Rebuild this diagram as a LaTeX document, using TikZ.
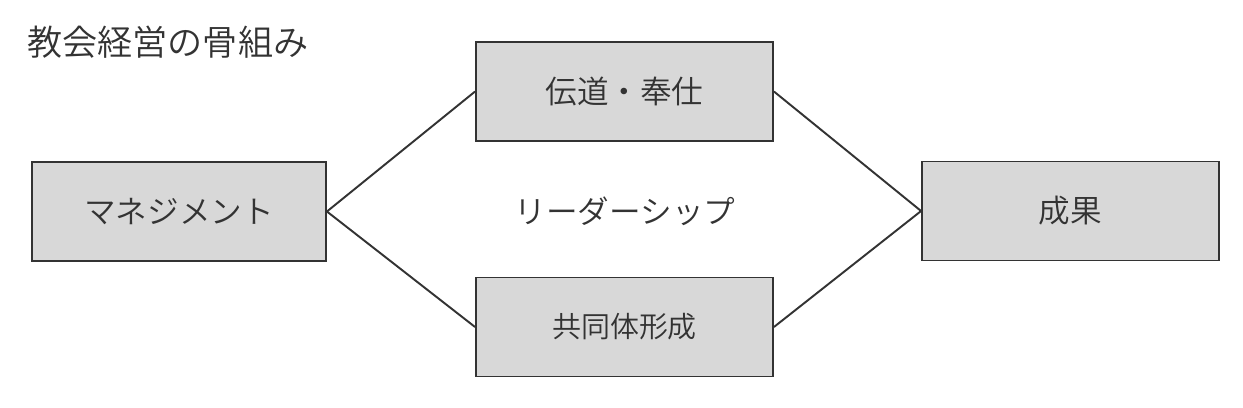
\documentclass[tikz,border=0pt]{standalone}
\usepackage{fontspec}
\usepackage{xcolor}
\usepackage{tikz}
\newfontfamily\jpfont{Noto Sans CJK JP DemiLight}
\definecolor{mygray}{HTML}{D8D8D8}
\definecolor{myink}{HTML}{333333}

\begin{document}
\begin{tikzpicture}[x=0.02cm,y=-0.02cm,
  box/.style={draw=myink,fill=mygray,line width=1.1pt,
              minimum width=5.94cm,minimum height=1.98cm,
              inner sep=0pt,font=\jpfont\fontsize{18}{20}\selectfont,text=myink},
  lbl/.style={font=\jpfont\fontsize{18}{20}\selectfont,text=myink},
  link/.style={draw=myink,line width=1.1pt}]
\useasboundingbox (0,0) rectangle (1243,407);
\node[font=\jpfont\fontsize{20}{22}\selectfont,text=myink,anchor=west] (T) at (21,42) {教会経営の骨組み};
\node[box,minimum width=5.88cm] (M) at (179,211.5) {マネジメント};
\node[box]  (D) at (624.5,91.5)  {伝道・奉仕};
\node[box,font=\jpfont\fontsize{16.5}{18}\selectfont] (K) at (624.5,327) {共同体形成};
\node[box]  (S) at (1070.5,211)  {成果};
\node[lbl]  (L) at (625,211)     {リーダーシップ};
\draw[link] (M.east)--(D.west); \draw[link] (M.east)--(K.west);
\draw[link] (D.east)--(S.west); \draw[link] (K.east)--(S.west);
\end{tikzpicture}
\end{document}
